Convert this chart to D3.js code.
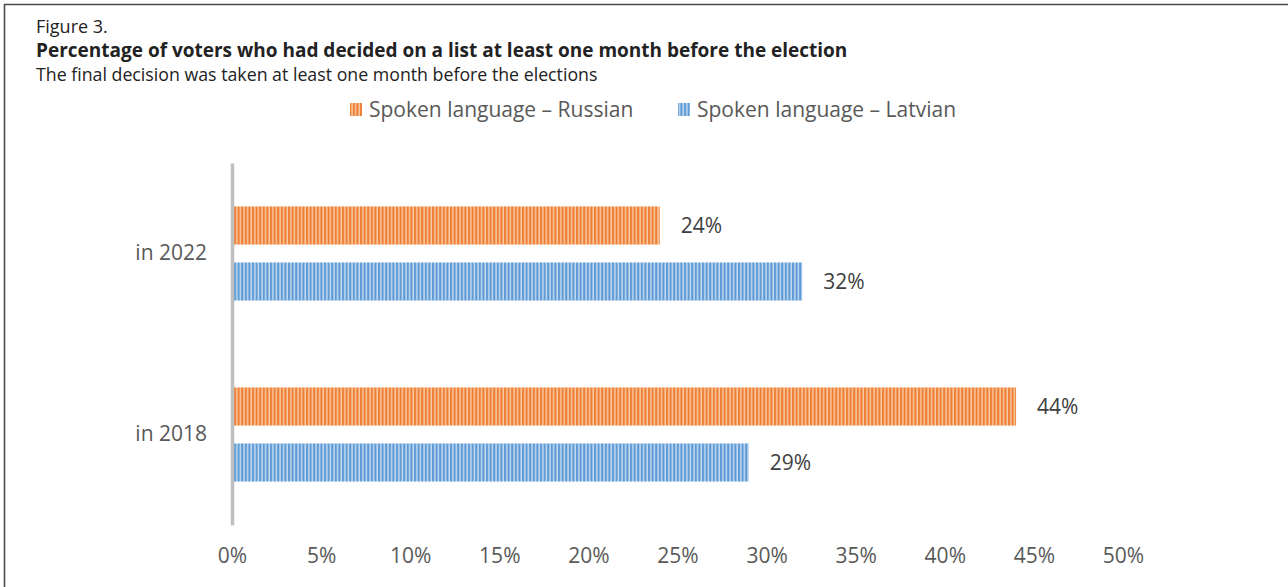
<!DOCTYPE html>
<html>
<head>
<meta charset="utf-8">
<script src="https://cdn.jsdelivr.net/npm/d3@7"></script>
<style>
  html, body { margin: 0; padding: 0; background: #fff; }
  svg { display: block; }
</style>
</head>
<body>
<svg id="chart" width="1288" height="587"></svg>
<script>
// Chart data
const categories = ["in 2022", "in 2018"];
const seriesNames = ["Spoken language – Russian", "Spoken language – Latvian"];
const russianValues = [24, 44];
const latvianValues = [32, 29];
const tickValues = [0, 5, 10, 15, 20, 25, 30, 35, 40, 45, 50];
const tickLabels = ["0%", "5%", "10%", "15%", "20%", "25%", "30%", "35%", "40%", "45%", "50%"];

const figureLabel = "Figure 3.";
const titleText = "Percentage of voters who had decided on a list at least one month before the election";
const subtitleText = "The final decision was taken at least one month before the elections";

const svg = d3.select("#chart");
const W = 1288, H = 587;

// Frame: top and left rules
svg.append("line").attr("x1", 4).attr("x2", W).attr("y1", 4.5).attr("y2", 4.5)
  .attr("stroke", "#4a4a4a").attr("stroke-width", 1.6);
svg.append("line").attr("x1", 4.5).attr("x2", 4.5).attr("y1", 4).attr("y2", H)
  .attr("stroke", "#4a4a4a").attr("stroke-width", 1.6);

// Heading text
const headFont = "'Open Sans', 'Noto Sans', sans-serif";
svg.append("text").attr("x", 36).attr("y", 33).text(figureLabel)
  .attr("font-family", headFont).attr("font-size", 18).attr("fill", "#222");
svg.append("text").attr("x", 36).attr("y", 57).text(titleText)
  .attr("font-family", headFont).attr("font-size", 19).attr("font-weight", "bold").attr("fill", "#222");
svg.append("text").attr("x", 36).attr("y", 81).text(subtitleText)
  .attr("font-family", headFont).attr("font-size", 17.75).attr("fill", "#222");

// Striped fills
const defs = svg.append("defs");
function stripePattern(id, dark, light) {
  const p = defs.append("pattern").attr("id", id)
    .attr("patternUnits", "userSpaceOnUse").attr("width", 3.6).attr("height", 10);
  p.append("rect").attr("width", 3.6).attr("height", 10).attr("fill", light);
  p.append("rect").attr("width", 2.1).attr("height", 10).attr("fill", dark);
}
stripePattern("stripeOrange", "#ee7f35", "#f9c8a2");
stripePattern("stripeBlue", "#5e9bd6", "#c3daf0");
const fills = ["url(#stripeOrange)", "url(#stripeBlue)"];

// Scales
const x = d3.scaleLinear().domain([0, 50]).range([232, 1123]);
const y0 = d3.scaleBand().domain(categories).range([163, 525]);
const y1 = d3.scaleBand().domain([0, 1]).range([0, y0.bandwidth()])
  .paddingInner(0.32).paddingOuter(0.776);

const chartFont = "'Open Sans', 'Noto Sans', sans-serif";
const chartSize = 21;

// Legend
const legendItems = [{ x: 350, name: seriesNames[0] }, { x: 678, name: seriesNames[1] }];
legendItems.forEach((d, i) => {
  svg.append("rect").attr("x", d.x).attr("y", 103).attr("width", 12).attr("height", 13)
    .attr("fill", fills[i]);
  svg.append("text").attr("x", d.x + 19).attr("y", 117).text(d.name)
    .attr("font-family", chartFont).attr("font-size", 21).attr("fill", "#595959");
});

// Bars
const rows = categories.map((c, i) => ({ cat: c, values: [russianValues[i], latvianValues[i]] }));
const groups = svg.selectAll("g.cat").data(rows).enter().append("g")
  .attr("class", "cat").attr("transform", d => `translate(0,${y0(d.cat)})`);

groups.selectAll("rect").data(d => d.values.map((v, k) => ({ v, k }))).enter().append("rect")
  .attr("x", x(0))
  .attr("y", d => y1(d.k))
  .attr("width", d => x(d.v) - x(0))
  .attr("height", y1.bandwidth())
  .attr("fill", d => fills[d.k]);

groups.selectAll("text.val").data(d => d.values.map((v, k) => ({ v, k }))).enter().append("text")
  .attr("class", "val")
  .attr("x", d => x(d.v) + 21)
  .attr("y", d => y1(d.k) + y1.bandwidth() / 2)
  .attr("dy", "0.35em")
  .text(d => d.v + "%")
  .attr("font-family", chartFont).attr("font-size", chartSize).attr("fill", "#404040");

// Category axis
const yAxis = svg.append("g").attr("transform", `translate(${x(0)},0)`)
  .call(d3.axisLeft(y0).tickSize(0).tickPadding(25));
yAxis.select(".domain").attr("stroke", "#bfbfbf").attr("stroke-width", 3.5);
yAxis.selectAll("text").attr("font-family", chartFont).attr("font-size", chartSize).attr("fill", "#595959");

// Value axis (labels only)
const xAxis = svg.append("g").attr("transform", "translate(0,548)")
  .call(d3.axisBottom(x).tickValues(tickValues).tickSize(0).tickPadding(0)
    .tickFormat((d, i) => tickLabels[i]));
xAxis.select(".domain").remove();
xAxis.selectAll("text").attr("font-family", chartFont).attr("font-size", chartSize).attr("fill", "#595959");
</script>
</body>
</html>
